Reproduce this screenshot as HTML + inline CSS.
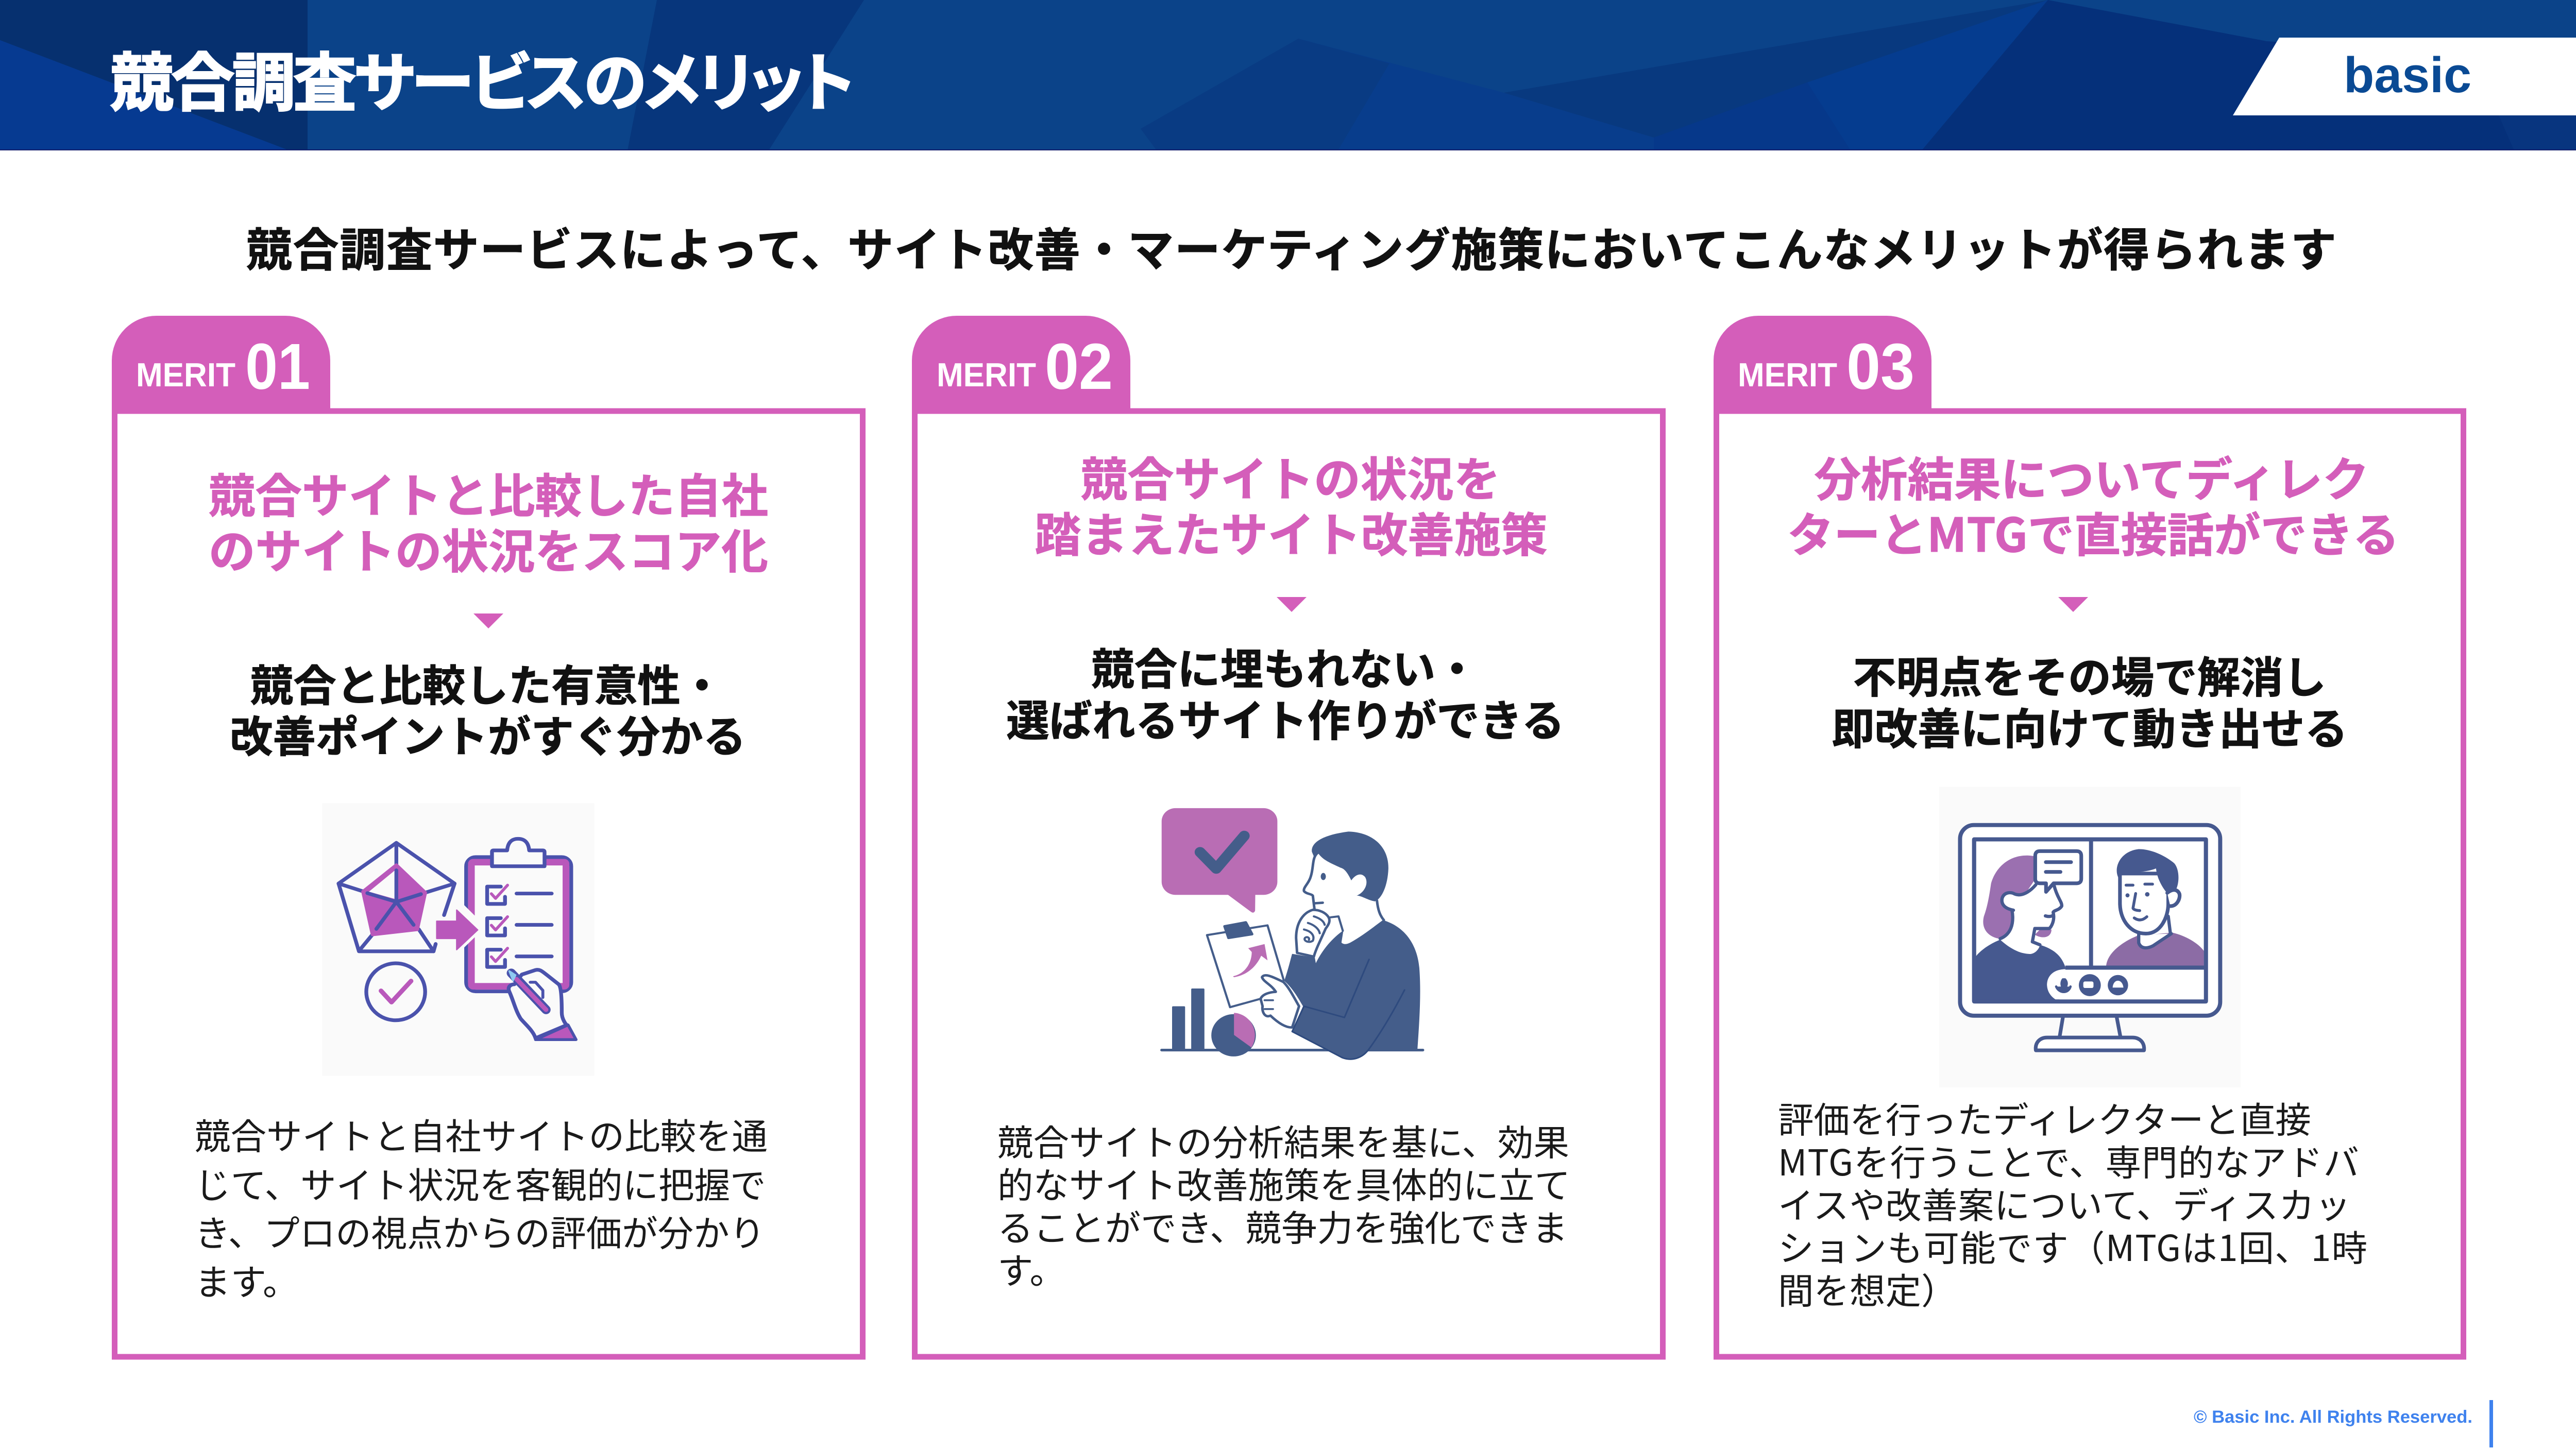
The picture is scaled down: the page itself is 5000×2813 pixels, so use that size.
<!DOCTYPE html>
<html lang="ja"><head><meta charset="utf-8"><title>競合調査サービスのメリット</title>
<style>
html,body{margin:0;padding:0;background:#fff}
svg{display:block}
.j{font-family:"Noto Sans CJK JP","Liberation Sans",sans-serif}
.h{font-weight:700;font-size:90.5px;fill:#d45eba;stroke:#d45eba;stroke-width:1;text-anchor:middle}
.s{font-weight:700;font-size:83.5px;fill:#111;stroke:#111;stroke-width:1;text-anchor:middle}
.b{font-weight:400;font-size:69.5px;fill:#1a1a1a}
.m{font-family:"Liberation Sans",sans-serif;font-weight:700;fill:#fff}
.t{font-feature-settings:"palt" 1}
</style></head><body>
<svg xmlns="http://www.w3.org/2000/svg" width="5000" height="2813" viewBox="0 0 5000 2813">
<rect width="5000" height="2813" fill="#fff"/>
<!-- header -->
<rect width="5000" height="292" fill="#0b4389"/>
<polygon points="0,0 597,0 597,292 561,292 0,78" fill="#06306f"/>
<polygon points="0,78 561,292 0,292" fill="#063a91"/>
<polygon points="1275,0 1677,0 1492,292 1218,292" fill="#07367c"/>
<polygon points="2520,75 2214,250 2245,292 2597,292 2697,123" fill="#093b83"/>
<polygon points="2520,75 2697,123 2597,292 3730,292 3975,0 3508,160 3210,267 2919,180" fill="#083d8c"/>
<polygon points="2919,180 3975,0 3508,160 3210,267" fill="#08397f"/>
<polygon points="3975,0 3508,160 3210,267 3210,292 3730,292" fill="#053c8f"/>
<polygon points="3508,160 3210,267 3210,292 3592,292" fill="#06388a"/>
<polygon points="3975,0 3730,292 5000,292 5000,120 4400,80" fill="#05307a"/>
<polygon points="4880,292 4850,224 5000,224 5000,292" fill="#08357f"/>
<rect y="290" width="5000" height="2" fill="#14206e"/>
<polygon points="4424,73 5000,73 5000,224 4334,224" fill="#fff"/>
<text x="4549" y="179" font-family="'Liberation Sans',sans-serif" font-weight="700" font-size="97" fill="#0a4a94">basic</text>
<text class="j t" x="214" y="204" font-size="123" font-weight="700" fill="#fff" stroke="#fff" stroke-width="3" textLength="1444">競合調査サービスのメリット</text>
<text class="j" x="478" y="517" font-size="89" font-weight="700" fill="#111" stroke="#111" stroke-width="1" textLength="4057">競合調査サービスによって、サイト改善・マーケティング施策においてこんなメリットが得られます</text>

<!-- cards -->
<g fill="#d45eba">
<path d="M217,803V700A87,87 0 0 1 304,613H554A87,87 0 0 1 641,700V803Z"/>
<path d="M1770,803V700A87,87 0 0 1 1857,613H2107A87,87 0 0 1 2194,700V803Z"/>
<path d="M3326,803V700A87,87 0 0 1 3413,613H3662A87,87 0 0 1 3749,700V803Z"/>
</g>
<g fill="#fff" stroke="#d45eba" stroke-width="11">
<rect x="222.500" y="798" width="1452" height="1836"/>
<rect x="1775.500" y="798" width="1452" height="1836"/>
<rect x="3331.500" y="798" width="1450" height="1836"/>
</g>
<g fill="#d45eba">
<polygon points="919,1191 977,1191 948,1220"/>
<polygon points="2478,1159 2536,1159 2507,1188"/>
<polygon points="3995,1159 4053,1159 4024,1188"/>
</g>
<g class="m">
<text class="m" x="264" y="750" font-size="65" textLength="193" lengthAdjust="spacingAndGlyphs">MERIT</text>
<text class="m" x="476" y="755" font-size="126" textLength="126" lengthAdjust="spacingAndGlyphs">01</text>
<text class="m" x="1818" y="750" font-size="65" textLength="193" lengthAdjust="spacingAndGlyphs">MERIT</text>
<text class="m" x="2028" y="755" font-size="126" textLength="132" lengthAdjust="spacingAndGlyphs">02</text>
<text class="m" x="3373" y="750" font-size="65" textLength="193" lengthAdjust="spacingAndGlyphs">MERIT</text>
<text class="m" x="3584" y="755" font-size="126" textLength="132" lengthAdjust="spacingAndGlyphs">03</text>
</g>
<!-- card 1 text -->
<g class="j">
<text class="h" x="948" y="995">競合サイトと比較した自社</text>
<text class="h" x="948" y="1103">のサイトの状況をスコア化</text>
<text class="s" x="945" y="1361">競合と比較した有意性・</text>
<text class="s" x="947" y="1460">改善ポイントがすぐ分かる</text>
<text class="b" x="378" y="2231">競合サイトと自社サイトの比較を通</text>
<text class="b" x="378" y="2326">じて、サイト状況を客観的に把握で</text>
<text class="b" x="378" y="2419">き、プロの視点からの評価が分かり</text>
<text class="b" x="378" y="2514">ます。</text>
<!-- card 2 text -->
<text class="h" x="2505" y="963">競合サイトの状況を</text>
<text class="h" x="2506" y="1071">踏まえたサイト改善施策</text>
<text class="s" x="2494" y="1329">競合に埋もれない・</text>
<text class="s" x="2495" y="1429">選ばれるサイト作りができる</text>
<text class="b" x="1936" y="2243">競合サイトの分析結果を基に、効果</text>
<text class="b" x="1936" y="2326">的なサイト改善施策を具体的に立て</text>
<text class="b" x="1936" y="2409">ることができ、競争力を強化できま</text>
<text class="b" x="1936" y="2492">す。</text>
<!-- card 3 text -->
<text class="h" x="4060" y="963">分析結果についてディレク</text>
<text class="h" x="4063" y="1071" textLength="1188">ターとMTGで直接話ができる</text>
<text class="s" x="4056" y="1345">不明点をその場で解消し</text>
<text class="s" x="4056" y="1445">即改善に向けて動き出せる</text>
<text class="b" x="3451" y="2199">評価を行ったディレクターと直接</text>
<text class="b" x="3451" y="2282" textLength="1128">MTGを行うことで、専門的なアドバ</text>
<text class="b" x="3451" y="2365" textLength="1112">イスや改善案について、ディスカッ</text>
<text class="b" x="3451" y="2448" textLength="1144">ションも可能です（MTGは1回、1時</text>
<text class="b" x="3451" y="2531">間を想定）</text>
</g>

<!-- illustration 1 -->
<g transform="translate(560,1500) scale(.408,.395)" fill="none" stroke="#4a52ac" stroke-width="18" stroke-linecap="round" stroke-linejoin="round">
<rect x="160" y="150" width="1295" height="1340" fill="#fafafa" stroke="none"/>
<path d="M740,700L790,545L513,345L238,545L335,878H690L700,842"/>
<path d="M513,345V460M238,545L360,585M790,545L650,590M400,795L340,870M620,770L690,878"/>
<polygon points="513,455 650,590 612,770 400,795 355,585" fill="#b958bb" stroke="#b958bb"/>
<polygon points="513,465 513,630 368,588" fill="#fafafa" stroke="#b958bb" stroke-width="14"/>
<path d="M513,480V630M375,592L513,635L630,597M513,635L418,768M513,635L595,748"/>
<rect x="845" y="415" width="500" height="660" rx="45" fill="#fafafa"/>
<rect x="870" y="440" width="450" height="610" rx="8" fill="none" stroke="#b958bb" stroke-width="32"/>
<polygon points="825,640 905,722 905,790 825,870" fill="#fafafa" stroke="none"/>
<polygon points="705,730 800,730 800,675 900,773 800,870 800,815 705,815" fill="#b958bb" stroke="#b958bb" stroke-width="6"/>
<path d="M968,460V388Q968,382 975,382H1040Q1045,325 1092,325Q1140,325 1145,382H1210Q1218,382 1218,390V460Z" fill="#fafafa"/>
<g>
<path d="M1010,560H945V645H1030V610"/><path d="M1010,715H945V800H1030V765"/><path d="M1010,870H945V955H1030V920"/>
<path d="M1085,594H1252M1085,748H1252M1085,903H1252"/>
</g>
<g stroke="#b958bb" stroke-width="14">
<path d="M965,595L985,618L1042,553"/><path d="M965,750L985,773L1042,708"/><path d="M965,905L985,928L1042,863"/>
</g>
<circle cx="510" cy="1077" r="140"/>
<path d="M440,1072L490,1128L583,1024" stroke="#b958bb" stroke-width="22"/>
<path d="M1110,992L1175,970C1195,965 1205,975 1230,995L1285,1040C1300,1055 1300,1150 1300,1180C1300,1210 1320,1240 1325,1240L1175,1305C1165,1270 1130,1240 1105,1210C1080,1170 1070,1120 1050,1075C1040,1050 1060,1040 1075,1040Z" fill="#fafafa"/>
<polygon points="1175,1312 1330,1240 1368,1312" fill="#b958bb" stroke="#4a52ac" stroke-width="14"/>
<path d="M1060,985L1225,1165" stroke-width="44"/>
<path d="M1085,1015L1225,1165" stroke="#b958bb" stroke-width="22"/>
<path d="M1050,975L1080,995L1068,1022Z" fill="#8ec9f0" stroke="#8ec9f0" stroke-width="8"/>
<path d="M1150,1030L1175,1030L1210,1070V1105" stroke-width="14"/>
</g>

<!-- illustration 2 -->
<g transform="translate(2200,1530) scale(.3827,.3635)" fill="none" stroke="#445d8a" stroke-width="13" stroke-linecap="round" stroke-linejoin="round">
<path d="M213,107H660A70,70 0 0 1 730,177V500A70,70 0 0 1 660,570H618L617,655Q610,672 595,660L480,570H213A70,70 0 0 1 143,500V177A70,70 0 0 1 213,107Z" fill="#b96db4" stroke="none"/>
<path d="M338,342L420,430L562,255" stroke-width="55"/>
<path d="M143,1399H1468" stroke-width="14"/>
<rect x="196" y="1165" width="66" height="232" rx="5" fill="#445d8a" stroke="none"/>
<rect x="293" y="1070" width="67" height="327" rx="5" fill="#445d8a" stroke="none"/>
<circle cx="508" cy="1320" r="113" fill="#445d8a" stroke="none"/>
<path d="M510,1318V1200A113,120 0 0 1 598,1385Z" fill="#b96db4" stroke="none"/>
<path d="M373,785L490,1170L645,1125L760,1020L680,733Z" fill="#fff" stroke="none"/>
<path d="M373,785L680,733L762,1025M373,785L490,1170L645,1125" stroke-width="11"/>
<polygon points="462,738 570,717 602,780 482,800" fill="#445d8a" stroke="#445d8a"/>
<path d="M505,1005C570,990 600,930 600,875L582,855L665,833L680,920L648,895C620,960 570,1000 510,1010Z" fill="#b96db4" stroke="none"/>
<path d="M905,340C900,290 960,250 1090,232C1210,235 1295,310 1293,430C1290,520 1260,590 1225,605C1190,600 1150,570 1130,575C1170,560 1195,510 1175,475C1150,445 1120,470 1105,493C1085,450 1070,430 1050,425C1000,400 960,385 935,345L915,365Z" fill="#445d8a" stroke="none"/>
<path d="M935,345C905,370 915,420 900,470C890,510 860,530 865,550C875,565 905,565 910,575L918,645M920,615L960,612M1235,600C1240,650 1250,680 1270,705"/>
<ellipse cx="963" cy="472" rx="13" ry="19" fill="#445d8a" stroke="none"/>
<path d="M1265,705C1380,740 1440,840 1450,960C1460,1100 1450,1250 1440,1400H1190C1160,1440 1110,1460 1060,1440L805,1300L860,1165C830,1110 800,1060 765,1030C790,950 800,900 805,885L920,905L925,935C960,860 1010,800 1065,760L1055,825C1070,840 1090,830 1100,825C1160,790 1220,740 1265,705Z" fill="#445d8a" stroke="none"/>
<path d="M1195,915L1070,1225L865,1165L805,1300L1060,1440C1110,1460 1160,1440 1190,1400C1260,1300 1320,1190 1375,1078" stroke="#2e4a7e" stroke-width="8"/>
<path d="M910,650C860,665 825,720 825,800L830,880L915,900C925,860 950,810 975,750C990,730 1000,710 990,690C975,665 945,650 910,650Z" fill="#fff"/>
<path d="M1000,690L1040,685L1062,762M915,685C945,695 965,710 970,730M885,720C915,730 940,750 945,775M865,755C905,765 920,790 910,815C890,830 860,815 870,800C880,790 895,800 890,810" stroke-width="11"/>
<path d="M645,1125C655,1100 690,1090 722,1088C700,1050 660,1035 652,1010C665,985 710,1010 760,1035C790,1065 815,1120 840,1165L805,1278C770,1280 730,1250 695,1215C665,1230 650,1190 655,1165Z" fill="#fff"/>
<path d="M665,1133H708M665,1180H708" stroke-width="10"/>
</g>

<!-- illustration 3 -->
<g transform="translate(3740,1510) scale(.3954)" fill="none" stroke="#46598f" stroke-width="20" stroke-linecap="round" stroke-linejoin="round">
<rect x="60" y="45" width="1480" height="1475" fill="#fafafa" stroke="none"/>
<path d="M668,1175L652,1270M932,1175L950,1270" stroke-width="18"/>
<path d="M535,1338C530,1300 555,1275 590,1275H1010C1045,1275 1070,1300 1066,1338Z" fill="#fff" stroke-width="18"/>
<rect x="163" y="232" width="1277" height="936" rx="68" fill="#fff"/>
<rect x="232" y="302" width="1138" height="796" rx="4" fill="#fff"/>
<path d="M806,302V930M680,932H1370" stroke-linecap="butt"/>
<path d="M880,925C885,860 960,805 1035,775L1205,760C1270,775 1330,810 1360,850V922Z" fill="#8c6ca5" stroke="none"/>
<path d="M1040,770V810C1050,840 1080,840 1110,825L1200,765" stroke-width="16" fill="#fff"/>
<path d="M1185,680L1195,760" stroke-width="16"/>
<path d="M948,470V620C950,700 1000,765 1075,765C1150,765 1185,680 1185,620V470Z" fill="#fff" stroke-width="18"/>
<path d="M1195,630C1230,630 1245,590 1240,570C1230,545 1205,545 1180,565" fill="#fff" stroke-width="18"/>
<path d="M940,490C915,440 950,360 1040,350C1110,350 1180,390 1215,420C1240,450 1240,510 1225,545L1178,565C1150,530 1130,490 1125,445C1060,470 990,460 950,470Z" fill="#46598f" stroke="none"/>
<path d="M978,527H1012M1070,522H1108M1025,568L1012,640Q1015,650 1045,652M1018,688Q1050,710 1080,682" stroke-width="14"/>
<circle cx="985" cy="577" r="10" fill="#46598f" stroke="none"/><circle cx="1082" cy="572" r="11" fill="#46598f" stroke="none"/>
<path d="M530,385C420,365 340,430 315,520C305,590 295,640 280,680C265,740 300,780 355,790L420,770L430,650L530,500ZM530,770C560,790 610,790 612,745L560,740Z" fill="#9b70b0" stroke="none"/>
<path d="M242,875C270,840 320,810 360,795C410,840 460,865 510,865C540,860 555,830 555,820C620,840 660,870 680,930V940C620,940 590,980 590,1015C590,1050 610,1080 650,1098H232V875Z" fill="#46598f" stroke="none"/>
<path d="M430,570C465,585 505,560 535,525L625,530L660,620L620,650V690L605,735L525,745L520,805L555,820C540,860 510,865 470,860C430,850 390,820 365,795C420,770 425,700 418,650C370,640 365,610 370,590C380,560 415,560 430,570Z" fill="#fff" stroke="none"/>
<path d="M430,570C465,585 505,560 535,525M625,530C640,590 665,610 662,630C650,650 625,650 620,660C630,700 610,735 600,740H530L518,805L555,820M425,650C370,640 365,610 370,590C380,560 415,560 430,570M418,650C430,720 410,770 360,790M582,678Q605,685 620,675" stroke-width="16"/>
<path d="M555,360H735Q758,360 758,383V495Q758,518 735,518H622L585,560V518H555Q532,518 532,495V383Q532,360 555,360Z" fill="#fff" stroke-width="18"/>
<path d="M584,414H708M584,462H656" stroke-width="18"/>
<path d="M680,940H1365V1090H660C620,1085 590,1050 590,1015C590,975 620,940 680,940Z" fill="#fff" stroke="none"/>
<path d="M232,302H1370V1098H232Z" stroke-linecap="butt"/>
<path d="M1370,932H680" stroke-linecap="butt"/>
<circle cx="800" cy="1018" r="54" fill="#46598f" stroke="none"/><circle cx="938" cy="1018" r="50" fill="#46598f" stroke="none"/>
<rect x="768" y="1000" width="50" height="32" rx="8" fill="#fff" stroke="none"/>
<path d="M912,1030C915,985 960,985 965,1030Z" fill="#fff" stroke="none"/>
<path d="M668,990C655,1010 665,1030 672,1035C682,1030 695,1010 678,990ZM635,1025C650,1060 695,1060 705,1025" fill="#46598f" stroke-width="12"/>
</g>

<!-- footer -->
<text x="4258" y="2762" font-family="'Liberation Sans',sans-serif" font-weight="700" font-size="34.500" fill="#3f82ee" textLength="541" lengthAdjust="spacingAndGlyphs">© Basic Inc. All Rights Reserved.</text>
<rect x="4832" y="2718" width="7" height="92" fill="#3f82ee"/>
</svg>
</body></html>
